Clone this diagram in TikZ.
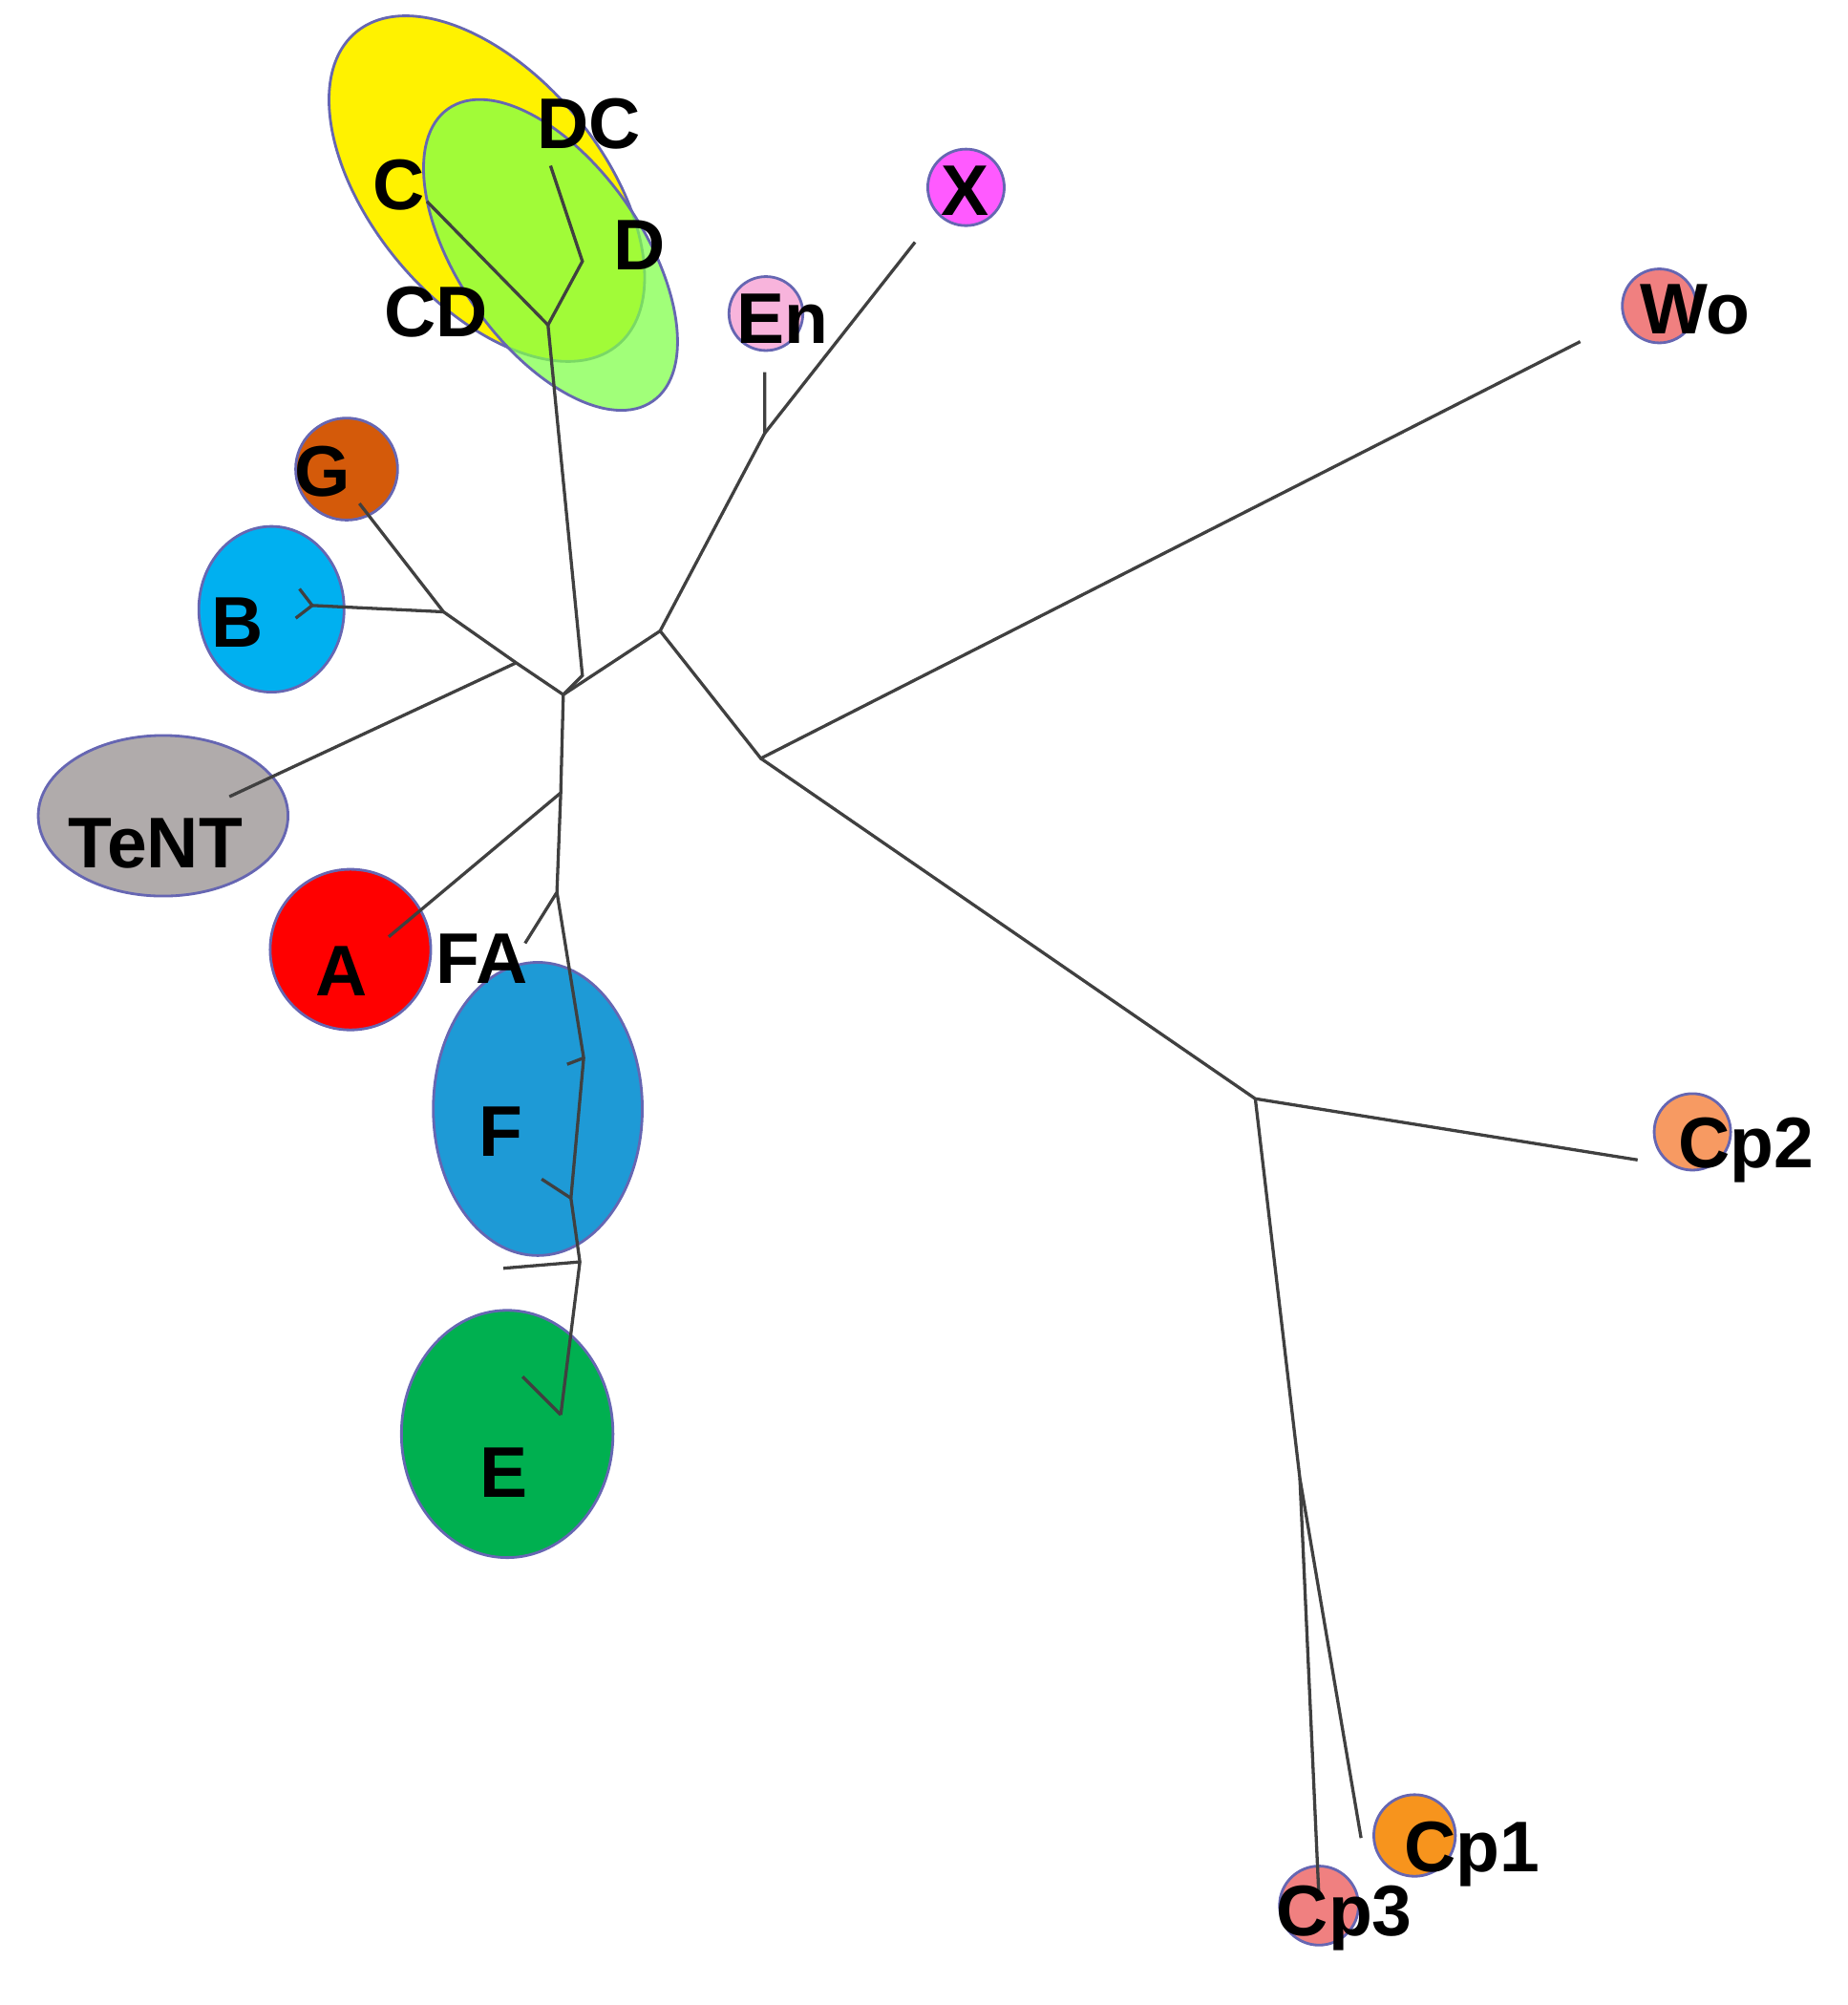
\documentclass[tikz,border=0pt]{standalone}
\usepackage{fontspec}
\setmainfont{Liberation Sans}
\begin{document}
\begin{tikzpicture}[x=0.01cm,y=-0.01cm,
  blob/.style={draw=black!50!blue!60,line width=0.6pt},
  lab/.style={font=\fontsize{16}{16}\selectfont\bfseries,inner sep=0pt},
  br/.style={draw=black!75,line width=0.7pt}]
\useasboundingbox (0,0) rectangle (1450,1573);
% blobs
\fill[yellow] (382,148) ellipse[x radius=160,y radius=90,rotate=-50];
\draw[blob] (382,148) ellipse[x radius=160,y radius=90,rotate=-50];
\fill[green!60!lime!70!white,opacity=0.75] (432,200) ellipse[x radius=140,y radius=72,rotate=-55];
\draw[blob] (432,200) ellipse[x radius=140,y radius=72,rotate=-55];
\filldraw[blob,fill={rgb,255:red,255;green,90;blue,255}] (758,147) circle[radius=30];
\filldraw[blob,fill={rgb,255:red,248;green,180;blue,220}] (601,246) circle[radius=29];
\filldraw[blob,fill={rgb,255:red,240;green,128;blue,128}] (1302,240) circle[radius=29];
\filldraw[blob,fill={rgb,255:red,212;green,90;blue,10}] (272,368) circle[radius=40];
\filldraw[blob,fill={rgb,255:red,0;green,176;blue,240}] (213,478) ellipse[x radius=57,y radius=65];
\filldraw[blob,fill={rgb,255:red,176;green,171;blue,171}] (128,640) ellipse[x radius=98,y radius=63];
\filldraw[blob,fill=red] (275,745) circle[radius=63];
\filldraw[blob,fill={rgb,255:red,30;green,154;blue,214}] (422,870) ellipse[x radius=82,y radius=115];
\filldraw[blob,fill={rgb,255:red,0;green,176;blue,80}] (398,1125) ellipse[x radius=83,y radius=97];
\filldraw[blob,fill={rgb,255:red,247;green,154;blue,98}] (1328,888) circle[radius=30];
\filldraw[blob,fill={rgb,255:red,247;green,148;blue,29}] (1110,1440) circle[radius=32];
\filldraw[blob,fill={rgb,255:red,240;green,128;blue,128}] (1035,1495) circle[radius=31];
% tree coordinates
\coordinate (n1) at (442,545);
\coordinate (n2) at (518,495);
\coordinate (nc) at (457,530);
\coordinate (ncd) at (430,255);
\coordinate (nd) at (457,205);
\coordinate (tc) at (335,158);
\coordinate (tdc) at (432,130);
\coordinate (nb) at (405,520);
\coordinate (ng) at (348,480);
\coordinate (tg) at (282,395);
\coordinate (tb) at (245,475);
\coordinate (tt) at (180,625);
\coordinate (na) at (440,622);
\coordinate (ta) at (305,735);
\coordinate (nfa) at (437,700);
\coordinate (tfa) at (412,740);
\coordinate (nf1) at (458,830);
\coordinate (nf2) at (448,940);
\coordinate (nf3) at (455,990);
\coordinate (tf) at (395,995);
\coordinate (te) at (440,1110);
\coordinate (nen) at (600,340);
\coordinate (ten) at (600,292);
\coordinate (tx) at (718,190);
\coordinate (nw) at (597,595);
\coordinate (tw) at (1240,268);
\coordinate (ncp) at (985,862);
\coordinate (tcp2) at (1285,910);
\coordinate (ncp3) at (1020,1160);
\coordinate (tcp3) at (1035,1490);
\coordinate (tcp1) at (1068,1442);
% branches
\draw[br] (n1) -- (n2);
\draw[br] (n1) -- (nc) -- (ncd) -- (tc);
\draw[br] (ncd) -- (nd) -- (tdc);
\draw[br] (n1) -- (nb) -- (ng) -- (tg);
\draw[br] (ng) -- (tb);
\draw[br] (nb) -- (tt);
\draw[br] (n1) -- (na) -- (ta);
\draw[br] (na) -- (nfa) -- (tfa);
\draw[br] (nfa) -- (nf1) -- (nf2) -- (nf3) -- (te);
\draw[br] (nf3) -- (tf);
\draw[br] (nf1) -- (445,835);
\draw[br] (nf2) -- (425,925);
\draw[br] (te) -- (410,1080);
\draw[br] (n2) -- (nen) -- (ten);
\draw[br] (nen) -- (tx);
\draw[br] (n2) -- (nw) -- (tw);
\draw[br] (nw) -- (ncp) -- (tcp2);
\draw[br] (ncp) -- (ncp3) -- (tcp3);
\draw[br] (ncp3) -- (tcp1);
\draw[br] (tb) -- (235,462) (tb) -- (232,485);
% labels
\node[lab] (lDC) at (462,97) {DC};
\node[lab] (lC) at (313,145) {C};
\node[lab] (lD) at (502,192) {D};
\node[lab] (lCD) at (342,245) {CD};
\node[lab] (lX) at (757,150) {X};
\node[lab] (lEn) at (614,250) {En};
\node[lab] (lWo) at (1330,243) {Wo};
\node[lab] (lG) at (253,370) {G};
\node[lab] (lB) at (186,488) {B};
\node[lab] (lT) at (122,662) {TeNT};
\node[lab] (lA) at (268,762) {A};
\node[lab] (lFA) at (378,752) {FA};
\node[lab] (lF) at (393,888) {F};
\node[lab] (lE) at (395,1155) {E};
\node[lab] (lCp2) at (1370,902) {Cp2};
\node[lab] (lCp1) at (1155,1455) {Cp1};
\node[lab] (lCp3) at (1055,1505) {Cp3};
\end{tikzpicture}
\end{document}
